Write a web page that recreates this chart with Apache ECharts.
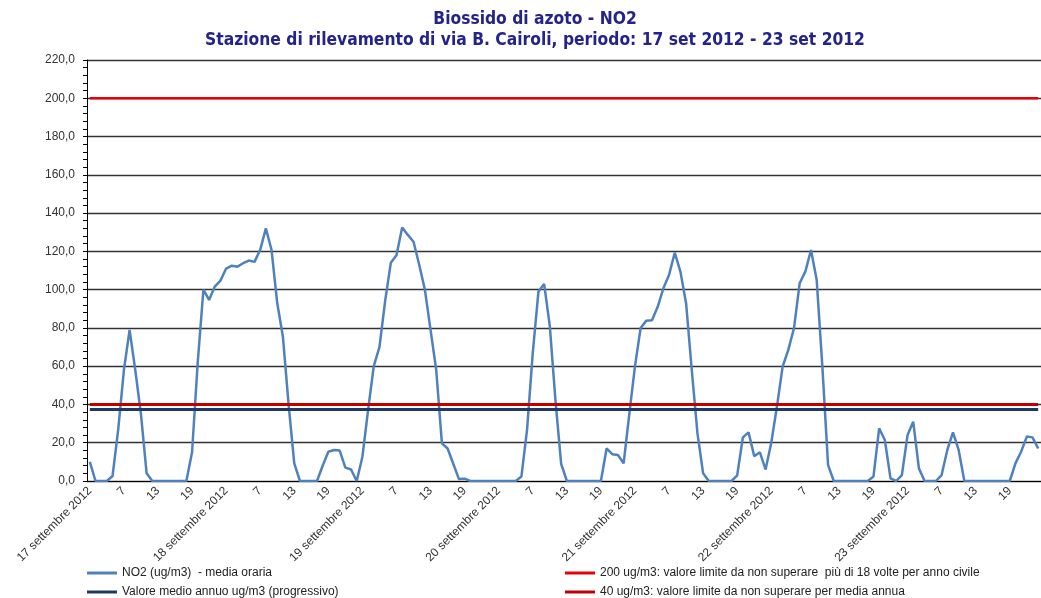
<!DOCTYPE html>
<html>
<head>
<meta charset="utf-8">
<title>Biossido di azoto - NO2</title>
<script src="https://cdn.jsdelivr.net/npm/echarts@6/dist/echarts.min.js"></script>
<style>
  html, body { margin: 0; padding: 0; background: #fff; }
  #chart { width: 1041px; height: 598px; }
</style>
</head>
<body>
<div id="chart"></div>
<script>
// giorni del periodo (etichetta della prima ora di ogni giorno)
const days = ['17 settembre 2012', '18 settembre 2012', '19 settembre 2012', '20 settembre 2012',
  '21 settembre 2012', '22 settembre 2012', '23 settembre 2012']

// NO2 media oraria, ore 1..24 per giorno
const no2Day1 = [10, 0, 0, 0, 2.6, 27, 58, 79, 58, 35, 4, 0, 0, 0, 0, 0, 0, 0, 15, 62, 100, 94.6, 101.6, 104.7]
const no2Day2 = [111, 112.5, 112, 113.8, 115.2, 114.5, 120.8, 132, 120.7, 93, 75.4, 40, 9.2, 0, 0, 0, 0, 8, 15.3, 16.2, 15.9, 7, 6, 0]
const no2Day3 = [12.7, 37, 60, 70, 94, 114, 118, 132.5, 128.6, 125, 113, 100, 79, 58, 19.7, 17, 9, 1, 1.2, 0, 0, 0, 0, 0]
const no2Day4 = [0, 0, 0, 0, 2.3, 27, 67, 99, 103, 81, 42, 9, 0, 0, 0, 0, 0, 0, 0, 17, 14, 13.6, 9.2, 35]
const no2Day5 = [60, 80, 83.8, 84, 91, 100.7, 107.7, 119.3, 109.4, 92.9, 58, 25, 4, 0, 0, 0, 0, 0, 3, 22.8, 25.4, 13, 15, 6]
const no2Day6 = [20, 38.9, 59.8, 68.5, 79.8, 103.3, 109.4, 120.7, 105, 59.8, 8.4, 0, 0, 0, 0, 0, 0, 0, 2.3, 27.5, 21.4, 1.4, 0, 3.1]
const no2Day7 = [24, 31, 6.6, 0, 0, 0, 3.1, 16.2, 25.4, 16.2, 0, 0, 0, 0, 0, 0, 0, 0, 0, 9.2, 15.3, 23.2, 22.8, 17]

const mediaAnnua = 37.4   // valore medio annuo progressivo
const limiteOrario = 200
const limiteAnnuo = 40

const yTicks = [0, 20, 40, 60, 80, 100, 120, 140, 160, 180, 200, 220]

const nomi = ['NO2 (ug/m3)  - media oraria',
  'Valore medio annuo ug/m3 (progressivo)',
  '200 ug/m3: valore limite da non superare  più di 18 volte per anno civile',
  '40 ug/m3: valore limite da non superare per media annua']

const no2 = [].concat(no2Day1, no2Day2, no2Day3, no2Day4, no2Day5, no2Day6, no2Day7)
const categories = []
days.forEach(d => {
  for (let h = 1; h <= 24; h++) categories.push(h === 1 ? d : String(h))
})
const flat = v => categories.map(() => v)

const chart = echarts.init(document.getElementById('chart'))

// una legenda per voce, per metterle su due colonne come nell'originale
const legendPos = [[87, 567], [87, 586], [565, 567], [565, 586]]
const legends = nomi.map((n, i) => ({
  left: legendPos[i][0],
  top: legendPos[i][1],
  padding: 0,
  itemWidth: 30,
  itemHeight: 3,
  icon: 'rect',
  textStyle: { fontFamily: 'Liberation Sans', fontSize: 12, color: '#222' },
  data: [n]
}))

chart.setOption({
  animation: false,
  title: {
    text: 'Biossido di azoto - NO2\nStazione di rilevamento di via B. Cairoli, periodo: 17 set 2012 - 23 set 2012',
    left: 530,
    textAlign: 'center',
    top: 4,
    textStyle: {
      fontFamily: "'DejaVu Sans Condensed', 'Liberation Sans Narrow', 'Liberation Sans'",
      fontWeight: 'bold',
      fontSize: 17.3,
      lineHeight: 21,
      color: '#23238a'
    }
  },
  grid: { left: 87, top: 60, height: 421, width: 961 },
  legend: legends,
  xAxis: {
    type: 'category',
    data: categories,
    boundaryGap: true,
    axisLine: { lineStyle: { color: '#000', width: 1 } },
    axisTick: { interval: 5, length: 4, lineStyle: { color: '#000' } },
    axisLabel: {
      interval: 5,
      rotate: 45,
      margin: 8,
      fontFamily: 'Liberation Sans',
      fontSize: 12,
      color: '#333'
    },
    splitLine: { show: false }
  },
  yAxis: {
    type: 'value',
    min: yTicks[0],
    max: yTicks[yTicks.length - 1],
    interval: 20,
    axisLine: { show: true, lineStyle: { color: '#000', width: 1 } },
    axisTick: { show: true, length: 4, lineStyle: { color: '#000' } },
    minorTick: { show: true, splitNumber: 5, length: 4, lineStyle: { color: '#000' } },
    axisLabel: {
      margin: 12,
      fontFamily: 'Liberation Sans',
      fontSize: 12,
      color: '#333',
      formatter: v => v.toFixed(1).replace('.', ',')
    },
    splitLine: { show: true, lineStyle: { color: '#333', width: 1.3 } }
  },
  series: [
    {
      name: nomi[0],
      type: 'line',
      data: no2,
      showSymbol: false,
      itemStyle: { color: '#4f81bd' },
      lineStyle: { color: '#4f81bd', width: 2.5 },
      z: 2
    },
    {
      name: nomi[1],
      type: 'line',
      data: flat(mediaAnnua),
      showSymbol: false,
      itemStyle: { color: '#1f3864' },
      lineStyle: { color: '#1f3864', width: 3 },
      z: 3
    },
    {
      name: nomi[2],
      type: 'line',
      data: flat(limiteOrario),
      showSymbol: false,
      itemStyle: { color: '#e8000b' },
      lineStyle: { color: '#e8000b', width: 2.5 },
      z: 3
    },
    {
      name: nomi[3],
      type: 'line',
      data: flat(limiteAnnuo),
      showSymbol: false,
      itemStyle: { color: '#c00000' },
      lineStyle: { color: '#c00000', width: 3 },
      z: 3
    }
  ]
})
</script>
</body>
</html>
